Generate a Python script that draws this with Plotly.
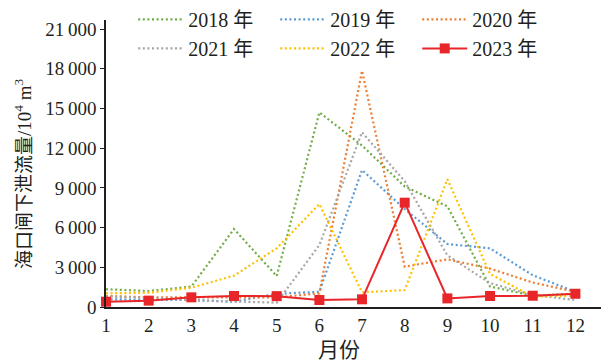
import plotly.graph_objects as go

# Monthly discharge below Haikou sluice (10^4 m^3)
months = [1, 2, 3, 4, 5, 6, 7, 8, 9, 10, 11, 12]
flow_2018 = [1340, 1210, 1540, 5890, 2340, 14700, 12200, 9100, 7600, 1550, 850, 1000]
flow_2019 = [580, 580, 530, 400, 1000, 1150, 10350, 7400, 4760, 4430, 2400, 1150]
flow_2020 = [830, 730, 720, 700, 730, 1030, 17850, 3050, 3600, 2900, 1850, 1150]
flow_2021 = [800, 700, 500, 420, 330, 4680, 13200, 9500, 3900, 1800, 900, 530]
flow_2022 = [1030, 1080, 1450, 2370, 4430, 7780, 1110, 1280, 9650, 2500, 780, 850]
flow_2023 = [400, 480, 730, 830, 820, 530, 580, 7880, 650, 830, 850, 1000]

y_ticks = [0, 3000, 6000, 9000, 12000, 15000, 18000, 21000]
y_tick_text = ["0", "3\u2009000", "6\u2009000", "9\u2009000", "12\u2009000",
               "15\u2009000", "18\u2009000", "21\u2009000"]

FONT = "Liberation Serif, Noto Sans CJK SC"
INK = "#231f20"

dotted = [
    ("2018 年", flow_2018, "#70ad47"),
    ("2019 年", flow_2019, "#5b9bd5"),
    ("2020 年", flow_2020, "#ed7d31"),
    ("2021 年", flow_2021, "#a5a5a5"),
    ("2022 年", flow_2022, "#ffc000"),
]

fig = go.Figure()
for name, vals, color in dotted:
    fig.add_trace(go.Scatter(
        x=months, y=vals, name=name, mode="lines",
        line=dict(color=color, width=2.2, dash="2px,2.6px"),
    ))

fig.add_trace(go.Scatter(
    x=months, y=flow_2023, name="2023 年", mode="lines+markers",
    line=dict(color="#e8262a", width=2),
    marker=dict(symbol="square", size=10, color="#e8262a"),
    cliponaxis=False,
))

fig.update_layout(
    width=604, height=362,
    margin=dict(l=106, r=3, t=20, b=55, autoexpand=False),
    paper_bgcolor="white", plot_bgcolor="white",
    font=dict(family=FONT, size=19, color=INK),
    showlegend=True,
    legend=dict(
        orientation="h", x=0.055, xanchor="left", y=1.07, yanchor="top",
        entrywidth=82, entrywidthmode="pixels", itemwidth=45,
        bgcolor="rgba(0,0,0,0)", font=dict(family=FONT, size=20, color=INK),
        traceorder="normal",
    ),
    xaxis=dict(
        range=[1, 12.6], tickvals=months, ticktext=[str(m) for m in months],
        showline=True, linecolor=INK, linewidth=1.5, ticks="",
        showgrid=False, zeroline=False,
        tickfont=dict(family=FONT, size=19, color=INK),
    ),
    yaxis=dict(
        range=[0, 21680], tickvals=y_ticks, ticktext=y_tick_text,
        showline=True, linecolor=INK, linewidth=1.5,
        ticks="outside", ticklen=4, tickcolor=INK, tickwidth=1.2,
        showgrid=False, zeroline=False,
        tickfont=dict(family=FONT, size=19, color=INK),
    ),
    annotations=[
        dict(text="海口闸下泄流量/10<sup>4</sup> m<sup>3</sup>", textangle=-90,
             xref="paper", yref="paper", x=(23 - 106) / 495, y=(307 - 174) / 287,
             xanchor="center", yanchor="middle", showarrow=False,
             font=dict(family=FONT, size=19, color=INK)),
        dict(text="月份", xref="paper", yref="paper",
             x=(339 - 106) / 495, y=-(350 - 307) / 287,
             xanchor="center", yanchor="middle", showarrow=False,
             font=dict(family=FONT, size=21, color=INK)),
    ],
)

fig.write_html("out.html")
